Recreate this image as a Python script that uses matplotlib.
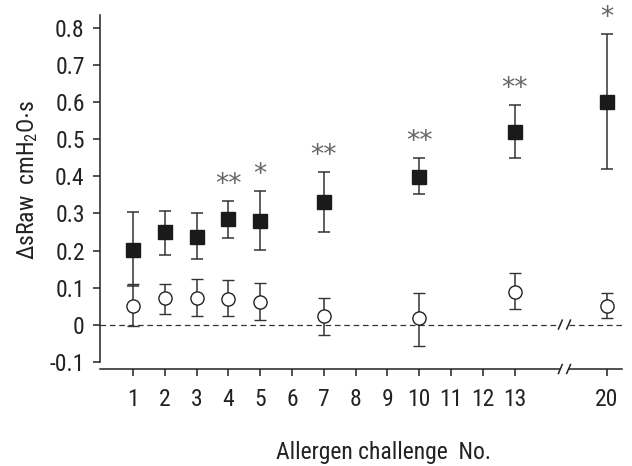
import matplotlib
matplotlib.use("Agg")
import matplotlib.pyplot as plt
import matplotlib.transforms as mtransforms

# ---- data ----
challenges = [1, 2, 3, 4, 5, 7, 10, 13, 20]
filled_mean = [0.202, 0.250, 0.237, 0.285, 0.281, 0.331, 0.399, 0.520, 0.601]
filled_hi = [0.303, 0.306, 0.301, 0.334, 0.361, 0.412, 0.450, 0.593, 0.784]
filled_lo = [0.103, 0.189, 0.178, 0.234, 0.202, 0.251, 0.353, 0.450, 0.420]
open_mean = [0.051, 0.072, 0.072, 0.069, 0.062, 0.024, 0.019, 0.089, 0.051]
open_hi = [0.110, 0.110, 0.123, 0.120, 0.111, 0.072, 0.085, 0.140, 0.086]
open_lo = [-0.005, 0.029, 0.022, 0.022, 0.013, -0.028, -0.059, 0.043, 0.019]
sig = ['', '', '', '**', '*', '**', '**', '**', '*']
xtick_labels = ['1', '2', '3', '4', '5', '6', '7', '8', '9', '10', '11', '12', '13', '20']
xtick_values = [1, 2, 3, 4, 5, 6, 7, 8, 9, 10, 11, 12, 13, 20]
ytick_values = [-0.1, 0, 0.1, 0.2, 0.3, 0.4, 0.5, 0.6, 0.7, 0.8]
ytick_labels = ['-0.1', '0', '0.1', '0.2', '0.3', '0.4', '0.5', '0.6', '0.7', '0.8']

# axis break: values above 13 are shifted left
BREAK_AFTER = 13
BREAK_SHIFT = 4.1
BREAK_POS = 14.57


def xpos(c):
    return c if c <= BREAK_AFTER else c - BREAK_SHIFT


FONT = ['Roboto Condensed', 'Archivo Narrow', 'Liberation Sans', 'DejaVu Sans']
plt.rcParams['font.family'] = FONT
plt.rcParams['mathtext.fontset'] = 'custom'
plt.rcParams['mathtext.rm'] = 'Roboto Condensed'
plt.rcParams['mathtext.it'] = 'Roboto Condensed'
plt.rcParams['mathtext.default'] = 'regular'

fig = plt.figure(figsize=(6.32, 4.66), dpi=100)
ax = fig.add_axes([100 / 632, 1 - 369 / 466, 522 / 632, (369 - 15) / 466])

xs = [xpos(c) for c in challenges]
LW = 1.1
TXT = '#222222'

xmin, xmax = -0.04, 16.38
gap = 0.13
# zero dashed line with break
ax.plot([xmin, BREAK_POS - gap], [0, 0], ls=(0, (4.5, 3.0)), color='#333333', lw=0.9, zorder=1)
ax.plot([BREAK_POS + gap, xmax], [0, 0], ls=(0, (4.5, 3.0)), color='#333333', lw=0.9, zorder=1)

# error bars
f_err = [[m - l for m, l in zip(filled_mean, filled_lo)], [h - m for m, h in zip(filled_mean, filled_hi)]]
o_err = [[m - l for m, l in zip(open_mean, open_lo)], [h - m for m, h in zip(open_mean, open_hi)]]
ax.errorbar(xs, filled_mean, yerr=f_err, fmt='s', ms=10, mfc='#1a1a1a', mec='#1a1a1a',
            ecolor='#333333', elinewidth=LW, capsize=4.6, capthick=LW, zorder=3)
ax.errorbar(xs, open_mean, yerr=o_err, fmt='o', ms=9.5, mfc='white', mec='#222222', mew=1.0,
            ecolor='#333333', elinewidth=LW, capsize=4.6, capthick=LW, zorder=3)

for x, h, s in zip(xs, filled_hi, sig):
    if s:
        ax.text(x, h + 0.008, s, ha='center', va='bottom', fontsize=19, color='#666666',
                family=['DejaVu Sans'])

ax.set_xlim(xmin, xmax)
ax.set_ylim(-0.12, 0.836)

ax.set_yticks(ytick_values)
ax.set_yticklabels(ytick_labels)
ax.set_xticks([xpos(v) for v in xtick_values])
ax.set_xticklabels(xtick_labels)

for s in ['top', 'right', 'bottom']:
    ax.spines[s].set_visible(False)
ax.spines['left'].set_bounds(-0.1, 0.836)
ax.spines['left'].set_linewidth(LW)
ax.spines['left'].set_color('#222222')

# bottom axis line with break
bt = mtransforms.blended_transform_factory(ax.transData, ax.transAxes)
ax.plot([xmin, BREAK_POS - gap], [0, 0], color='#222222', lw=LW, transform=bt, clip_on=False)
ax.plot([BREAK_POS + gap, xmax], [0, 0], color='#222222', lw=LW, transform=bt, clip_on=False)
# break slashes
for bx in (BREAK_POS - gap, BREAK_POS + gap):
    ax.plot([bx - 0.06, bx + 0.06], [-0.012, 0.012], color='#222222', lw=LW,
            clip_on=False, zorder=4)
    ax.plot([bx - 0.06, bx + 0.06], [-0.132, -0.108], color='#222222', lw=LW,
            clip_on=False, zorder=4)

ax.tick_params(axis='both', direction='out', length=5, width=LW, color='#222222',
               labelsize=17, labelcolor=TXT)
ax.tick_params(axis='y', pad=6)
ax.tick_params(axis='x', pad=9)

fig.text(383 / 632, 1 - 452 / 466, 'Allergen challenge  No.', ha='center', va='center',
         fontsize=17, color=TXT)
fig.text(28 / 632, 1 - 180 / 466, r'$\Delta$sR$\mathregular{aw}$  cmH$_2$O$\cdot$s',
         rotation=90, ha='center', va='center', fontsize=17, color=TXT)

fig.savefig('out.png', dpi=100)
